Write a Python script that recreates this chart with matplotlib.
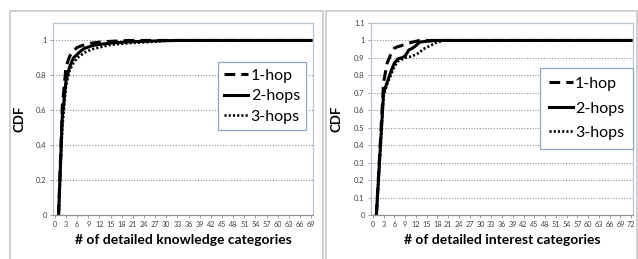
import matplotlib.pyplot as plt
from matplotlib.patches import Rectangle

# --- values (CDF per number of categories)
know_x = [1, 2, 3, 4, 5, 6, 7, 8, 9, 10, 12, 15, 20, 25, 30, 35, 69]
know_1hop = [0, 0.62, 0.85, 0.91, 0.94, 0.96, 0.968, 0.975, 0.98, 0.985, 0.99, 0.995, 1.0, 1.0, 1.0, 1.0, 1.0]
know_2hops = [0, 0.56, 0.77, 0.85, 0.9, 0.92, 0.94, 0.955, 0.962, 0.97, 0.977, 0.985, 0.992, 0.996, 0.999, 1.0, 1.0]
know_3hops = [0, 0.5, 0.74, 0.83, 0.87, 0.9, 0.915, 0.93, 0.94, 0.95, 0.96, 0.975, 0.985, 0.99, 0.998, 1.0, 1.0]

int_x = [1, 2, 3, 4, 5, 6, 7, 8, 9, 10, 11, 12, 13, 14, 15, 16, 18, 20, 72]
int_1hop = [0, 0.38, 0.76, 0.87, 0.92, 0.955, 0.965, 0.97, 0.98, 0.985, 0.99, 0.995, 1.0, 1.0, 1.0, 1.0, 1.0, 1.0, 1.0]
int_2hops = [0, 0.35, 0.7, 0.76, 0.82, 0.87, 0.895, 0.9, 0.91, 0.945, 0.955, 0.97, 0.99, 0.993, 0.995, 0.997, 1.0, 1.0, 1.0]
int_3hops = [0, 0.34, 0.68, 0.75, 0.8, 0.85, 0.88, 0.89, 0.9, 0.905, 0.91, 0.92, 0.93, 0.95, 0.96, 0.97, 0.99, 1.0, 1.0]

labels = ["1-hop", "2-hops", "3-hops"]
narrow = ["Liberation Sans Narrow", "Lato", "DejaVu Sans"]

fig = plt.figure(figsize=(6.38, 2.59), dpi=100)

# outer chart frames
for x0, w in [(10, 313), (326, 311)]:
    fig.patches.append(Rectangle((x0 / 638, -0.05), w / 638, (259 - 11) / 259 + 0.05,
                                 transform=fig.transFigure, fill=False,
                                 edgecolor="#c8c8c8", linewidth=1.2))

panels = [
    dict(rect=[53 / 638, 44 / 259, 260 / 638, 192 / 259], x=know_x,
         ys=[know_1hop, know_2hops, know_3hops], nmax=69, ystep=0.2,
         xlabel="# of detailed knowledge categories", leg=(218, 62), sp=0.4, bp=0.4),
    dict(rect=[371 / 638, 44 / 259, 262 / 638, 192 / 259], x=int_x,
         ys=[int_1hop, int_2hops, int_3hops], nmax=72, ystep=0.1,
         xlabel="# of detailed interest categories", leg=(540, 68), sp=0.65, bp=0.55),
]

styles = [dict(linestyle=(0, (3.5, 2)), linewidth=2.2),
          dict(linestyle="-", linewidth=2.2),
          dict(linestyle=(0, (0.8, 0.8)), linewidth=1.9)]

for p in panels:
    ax = fig.add_axes(p["rect"])
    for y, lab, st in zip(p["ys"], labels, styles):
        ax.plot(p["x"], y, color="black", label=lab, **st)
    ax.set_xlim(-0.5, p["nmax"] + 0.5)
    ax.set_ylim(0, 1.1)
    xt = list(range(0, p["nmax"] + 1, 3))
    ax.set_xticks(xt)
    ax.set_xticklabels([str(v) for v in xt], family=narrow, fontsize=5.2, color="#404040")
    if p["ystep"] == 0.1:
        yt = [i / 10 for i in range(12)]
        ylab = ["0"] + [f"{v:.1f}" for v in yt[1:10]] + ["1", "1.1"]
    else:
        yt = [i * 0.2 for i in range(6)]
        ylab = ["0", "0.2", "0.4", "0.6", "0.8", "1"]
    ax.set_yticks(yt)
    ax.set_yticklabels(ylab, family=narrow, fontsize=5.5, color="#404040")
    for v in yt[1:]:
        if v < 1.09:
            ax.axhline(v, color="#909090", linestyle=(0, (1, 1.5)), linewidth=0.8, zorder=0)
    ax.tick_params(axis="both", length=2.5, width=0.6, color="#909090", pad=2)
    for s in ax.spines.values():
        s.set_color("#b8c4d0")
        s.set_linewidth(0.9)
    ax.spines["bottom"].set_color("#909090")
    ax.set_xlabel(p["xlabel"], family=narrow, fontsize=10, fontweight="bold", labelpad=4)
    ax.set_ylabel("CDF", family=narrow, fontsize=9.5, fontweight="bold", labelpad=8)
    l0, t0 = p["leg"]
    leg = ax.legend(loc="upper left",
                    bbox_to_anchor=(l0 / 638, 1 - t0 / 259),
                    bbox_transform=fig.transFigure, borderaxespad=0,
                    prop=dict(family=narrow, size=11.5), handlelength=1.5,
                    handletextpad=0.15, labelspacing=p["sp"], borderpad=p["bp"],
                    frameon=True, fancybox=False, framealpha=1)
    leg.get_frame().set_edgecolor("#8fa7c0")
    leg.get_frame().set_linewidth(0.9)

fig.savefig("out.png", dpi=100)
